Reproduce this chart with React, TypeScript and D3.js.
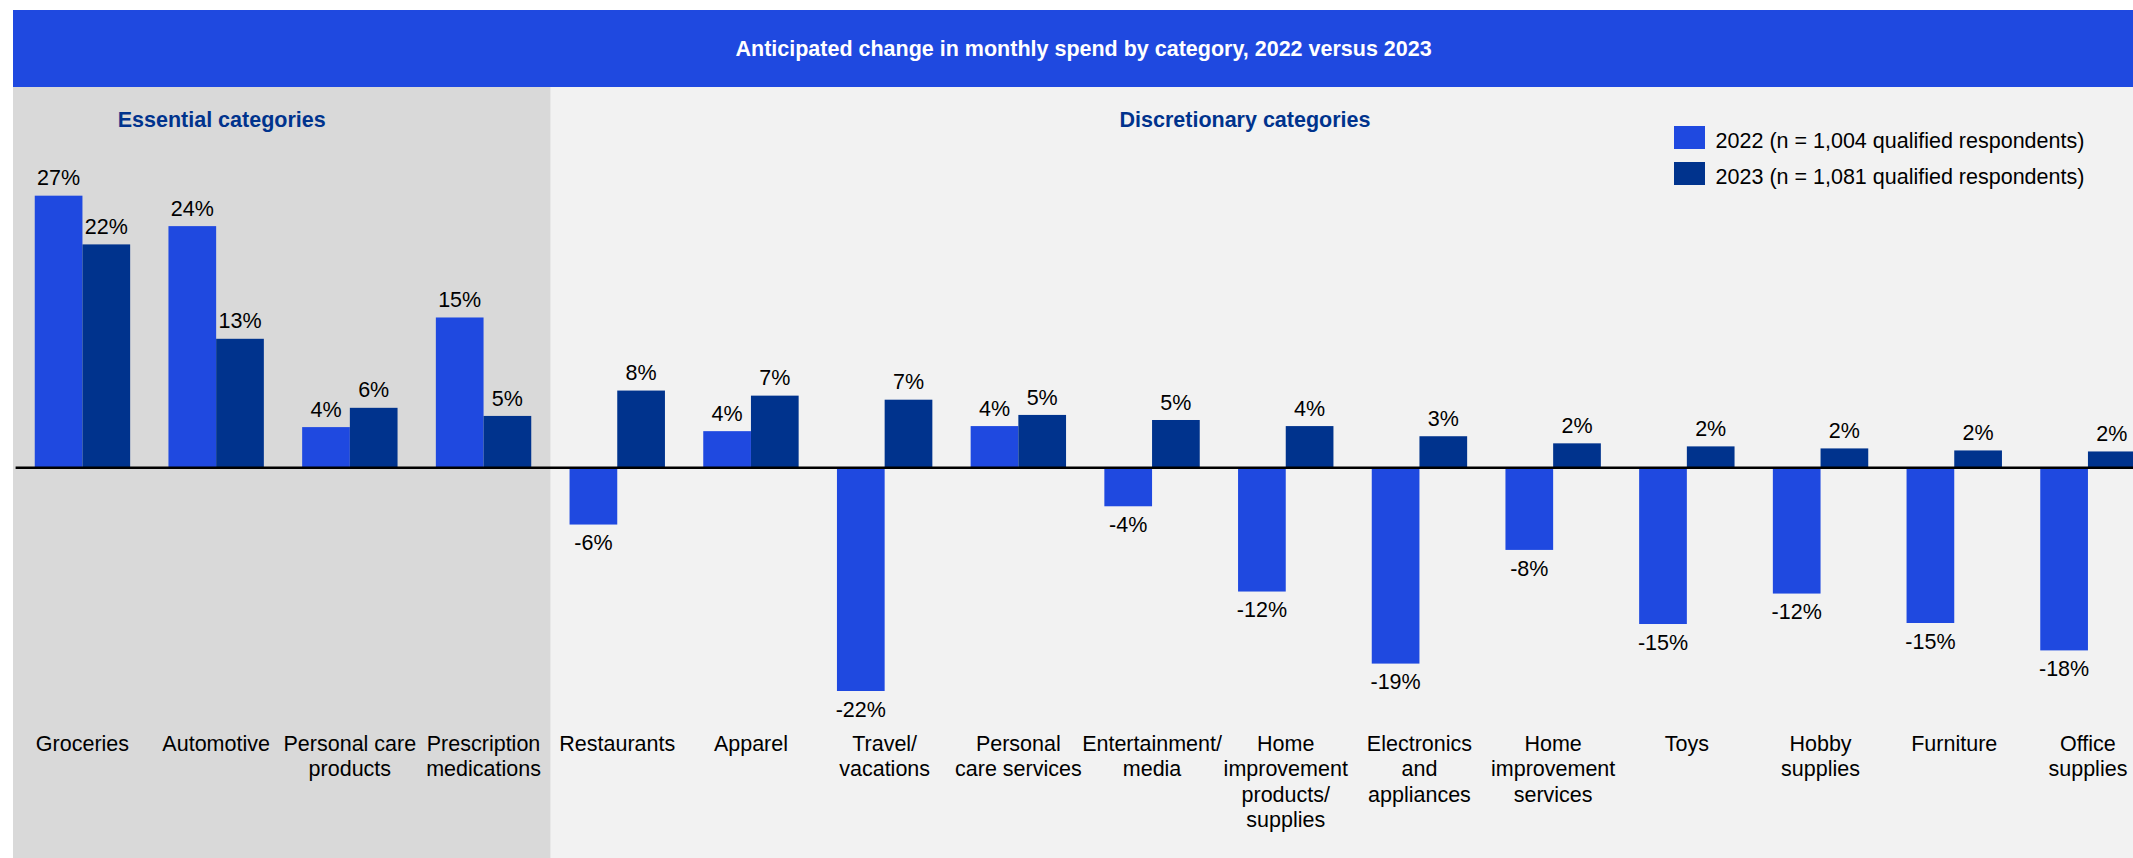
import React, { useEffect } from "react";
import * as d3 from "d3";

const categories = [
  "Groceries", "Automotive", "Personal care products", "Prescription medications",
  "Restaurants", "Apparel", "Travel/vacations", "Personal care services",
  "Entertainment/media", "Home improvement products/supplies", "Electronics and appliances",
  "Home improvement services", "Toys", "Hobby supplies", "Furniture", "Office supplies",
];
const tickLabels: string[][] = [
  ["Groceries"], ["Automotive"], ["Personal care", "products"], ["Prescription", "medications"],
  ["Restaurants"], ["Apparel"], ["Travel/", "vacations"], ["Personal", "care services"],
  ["Entertainment/", "media"], ["Home", "improvement", "products/", "supplies"],
  ["Electronics", "and", "appliances"], ["Home", "improvement", "services"],
  ["Toys"], ["Hobby", "supplies"], ["Furniture"], ["Office", "supplies"],
];
const values2022 = [26.8, 23.8, 4.0, 14.8, -5.6, 3.6, -22.0, 4.1, -3.8, -12.2, -19.3, -8.1, -15.4, -12.4, -15.3, -18.0];
const values2023 = [22.0, 12.7, 5.9, 5.1, 7.6, 7.1, 6.7, 5.2, 4.7, 4.1, 3.1, 2.4, 2.1, 1.9, 1.7, 1.6];
const seriesNames = ["2022", "2023"];
const legendLabels = ["2022 (n = 1,004 qualified respondents)", "2023 (n = 1,081 qualified respondents)"];
const essentialCount = 4;
const title = "Anticipated change in monthly spend by category, 2022 versus 2023";

const W = 2133, H = 858;
const COLORS = ["#1f49e0", "#00338d"];
const FONT = "'Liberation Sans', Arial, Helvetica, sans-serif";
const FS = 21.5;

export default function App() {
  useEffect(() => {
    document.body.style.margin = "0";
    document.body.style.overflow = "hidden";
  }, []);

  const x = d3.scaleBand<string>().domain(categories).range([15.6, 15.6 + 16 * 133.7])
    .paddingInner(0.2865).paddingOuter(0.2865 / 2);
  const xs = d3.scaleBand<string>().domain(seriesNames).range([0, x.bandwidth()]);
  const y0 = 467.7;
  const k = 10.15;
  const y = d3.scaleLinear().domain([-25, 30]).range([y0 + 25 * k, y0 - 30 * k]);
  const series = [values2022, values2023];
  const step = x.step();
  const rangeStart = x.range()[0];
  const essentialEnd = rangeStart + step * essentialCount;

  return (
    <svg width={W} height={H} style={{ position: "absolute", left: 0, top: 0, display: "block" }} fontFamily={FONT}>
      <rect x={0} y={0} width={W} height={H} fill="#ffffff" />
      <rect x={13} y={87} width={W - 13} height={H - 87} fill="#f2f2f2" />
      <rect x={13} y={87} width={essentialEnd - 13} height={H - 87} fill="#d9d9d9" />
      <rect x={13} y={10} width={W - 13} height={77} fill={COLORS[0]} />
      <text x={1083.6} y={55.5} textAnchor="middle" fill="#ffffff" fontWeight="bold" fontSize={FS}>{title}</text>
      <text x={221.7} y={126.5} textAnchor="middle" fill="#00338d" fontWeight="bold" fontSize={FS}>Essential categories</text>
      <text x={1245} y={126.5} textAnchor="middle" fill="#00338d" fontWeight="bold" fontSize={FS}>Discretionary categories</text>

      {legendLabels.map((l, i) => (
        <g key={l}>
          <rect x={1674} y={126 + i * 36} width={31} height={23} fill={COLORS[i]} />
          <text x={1715.6} y={147.5 + i * 36} fontSize={FS} fill="#000">{l}</text>
        </g>
      ))}

      {categories.map((c, ci) => (
        <g key={c} transform={`translate(${x(c)},0)`}>
          {series.map((vals, si) => {
            const v = vals[ci];
            const top = y(Math.max(0, v));
            const h = Math.abs(y(v) - y(0));
            const bx = xs(seriesNames[si])!;
            const cx = bx + xs.bandwidth() / 2;
            const label = `${Math.round(v)}%`;
            return (
              <g key={si}>
                <rect x={bx} y={top} width={xs.bandwidth()} height={h} fill={COLORS[si]} />
                <text x={cx} y={v >= 0 ? y(v) - 10.4 : y(v) + 25.6} textAnchor="middle" fontSize={FS} fill="#000">{label}</text>
              </g>
            );
          })}
        </g>
      ))}

      <line x1={15.6} x2={W} y1={y(0)} y2={y(0)} stroke="#000" strokeWidth={2.5} />

      {categories.map((c, ci) => (
        <text key={c} x={x(c)! + x.bandwidth() / 2} y={751} textAnchor="middle" fontSize={FS} fill="#000">
          {tickLabels[ci].map((line, li) => (
            <tspan key={li} x={x(c)! + x.bandwidth() / 2} dy={li === 0 ? 0 : 25.3}>{line}</tspan>
          ))}
        </text>
      ))}
    </svg>
  );
}
